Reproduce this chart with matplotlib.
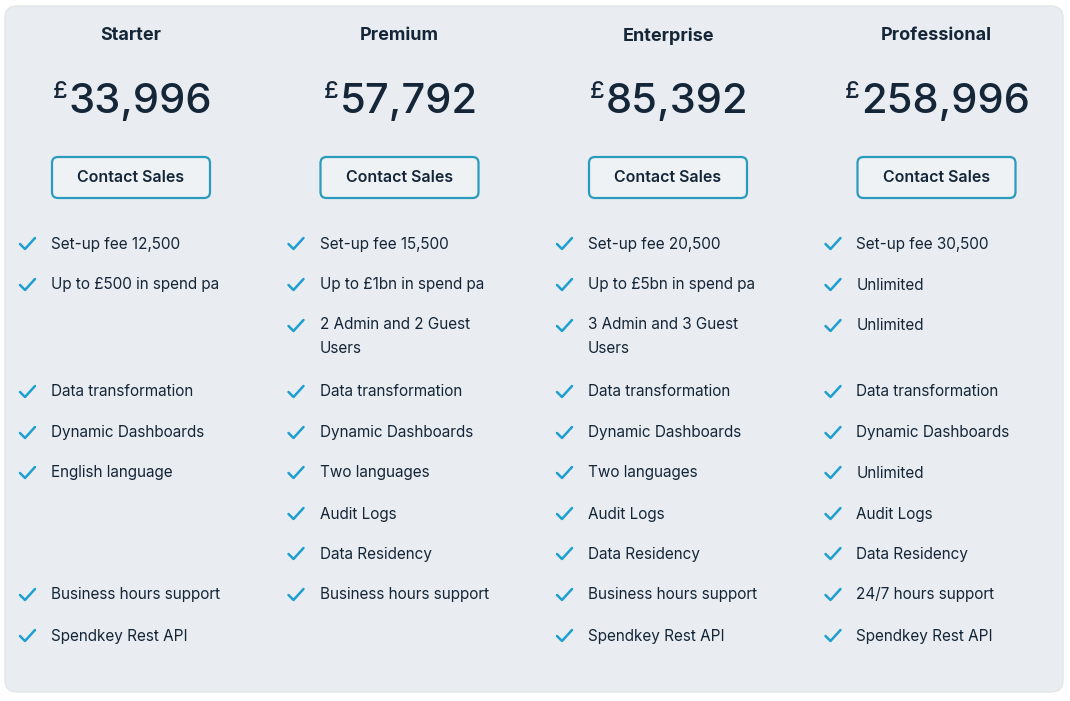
import matplotlib.pyplot as plt
from matplotlib.patches import FancyBboxPatch

plans = ["Starter", "Premium", "Enterprise", "Professional"]
prices = ["33,996", "57,792", "85,392", "258,996"]
setup_fee = ["Set-up fee 12,500", "Set-up fee 15,500", "Set-up fee 20,500", "Set-up fee 30,500"]
spend = ["Up to £500 in spend pa", "Up to £1bn in spend pa", "Up to £5bn in spend pa", "Unlimited"]
users = ["", "2 Admin and 2 Guest\nUsers", "3 Admin and 3 Guest\nUsers", "Unlimited"]
transform = ["Data transformation"] * 4
dashboards = ["Dynamic Dashboards"] * 4
languages = ["English language", "Two languages", "Two languages", "Unlimited"]
audit = ["", "Audit Logs", "Audit Logs", "Audit Logs"]
residency = ["", "Data Residency", "Data Residency", "Data Residency"]
support = ["Business hours support", "Business hours support", "Business hours support", "24/7 hours support"]
api = ["Spendkey Rest API", "", "Spendkey Rest API", "Spendkey Rest API"]

rows = [setup_fee, spend, users, transform, dashboards, languages, audit, residency, support, api]
row_y = [244, 285, 326, 392, 433, 473, 514, 554, 595, 636]

FONT = "Inter"
DARK = "#152638"
TEAL = "#2a9bbd"
CHECK = "#1e9fd0"

fig = plt.figure(figsize=(10.7, 7.01), dpi=100)
ax = fig.add_axes([0, 0, 1, 1])
ax.set_xlim(0, 1070)
ax.set_ylim(701, 0)
ax.axis("off")

ax.add_patch(FancyBboxPatch((5, 6), 1058, 686, boxstyle="round,pad=0,rounding_size=12",
                            fc="#e9edf1", ec="#e2e6ea", lw=1))

for i, name in enumerate(plans):
    cx = 131 + i * 268.5
    ax.text(cx, 36, name, ha="center", va="center", fontsize=13, fontweight="bold",
            color=DARK, family=FONT)
    t = ax.text(cx + 9, 102, prices[i], ha="center", va="center", fontsize=30,
                fontweight="medium", color=DARK, family=FONT)
    # pound sign placed left of the number
    fig.canvas.draw()
    bb = t.get_window_extent().transformed(ax.transData.inverted())
    ax.text(bb.x0 - 1, 92, "£", ha="right", va="center", fontsize=17,
            fontweight="medium", color=DARK, family=FONT)
    ax.add_patch(FancyBboxPatch((cx - 79, 157), 158, 41, boxstyle="round,pad=0,rounding_size=6",
                                fc="#eef2f5", ec=TEAL, lw=1.6))
    ax.text(cx, 178, "Contact Sales", ha="center", va="center", fontsize=11.5,
            fontweight="semibold", color=DARK, family=FONT)

    x0 = 20 + i * 268.5
    for vals, y in zip(rows, row_y):
        txt = vals[i]
        if not txt:
            continue
        ax.plot([x0, x0 + 5, x0 + 15], [y, y + 5, y - 6], color=CHECK, lw=1.8,
                solid_capstyle="round", solid_joinstyle="round")
        ax.text(x0 + 31, y - 1, txt, ha="left", va="top" if "\n" in txt else "center",
                fontsize=11, color=DARK, family=FONT, linespacing=1.9,
                transform=ax.transData) if "\n" in txt and False else \
            ax.text(x0 + 31, y if "\n" not in txt else y - 9, txt, ha="left", va="top" if "\n" in txt else "center",
                    fontsize=11, color=DARK, family=FONT, linespacing=1.75)

fig.savefig("out.png", dpi=100, facecolor="white")
